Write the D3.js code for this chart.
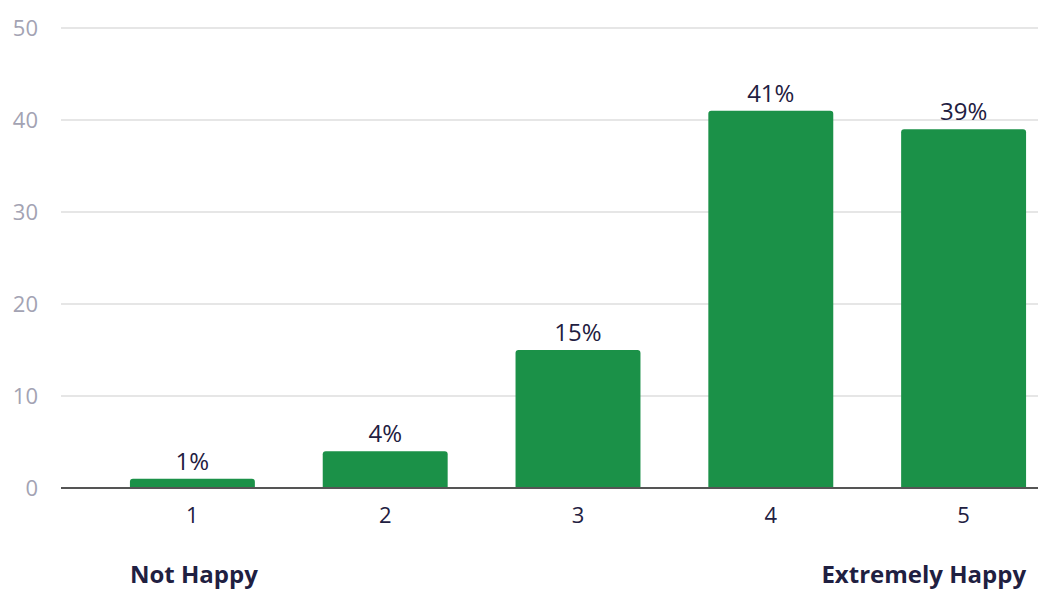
<!DOCTYPE html>
<html>
<head>
<meta charset="utf-8">
<script src="https://cdn.jsdelivr.net/npm/d3@7"></script>
<style>
  html, body { margin: 0; padding: 0; background: #ffffff; }
  svg { display: block; }
</style>
</head>
<body>
<div id="chart"></div>
<script>
// Happiness rating survey: share of respondents per score
const categories = ["1", "2", "3", "4", "5"];
const percentValues = [1, 4, 15, 41, 39];
const yTicks = [0, 10, 20, 30, 40, 50];
const scaleEndLabels = ["Not Happy", "Extremely Happy"];

const width = 1038, height = 590;
const gridLeft = 61, gridRight = 1038;
const yTop = 28, yBottom = 488;
const font = "'Open Sans', sans-serif";

const svg = d3.select("#chart").append("svg")
  .attr("width", width)
  .attr("height", height);

const x = d3.scaleBand()
  .domain(categories)
  .range([96, 1060])
  .paddingInner(0.352)
  .paddingOuter(0.176);

const y = d3.scaleLinear()
  .domain([0, 50])
  .range([yBottom, yTop]);

// horizontal gridlines
svg.append("g")
  .selectAll("line")
  .data(yTicks.filter(t => t !== 0))
  .join("line")
  .attr("x1", gridLeft)
  .attr("x2", gridRight)
  .attr("y1", d => y(d))
  .attr("y2", d => y(d))
  .attr("stroke", "#e6e6e6")
  .attr("stroke-width", 2);

// y axis labels
const yAxis = d3.axisLeft(y).tickValues(yTicks).tickSize(0).tickPadding(0);
const yG = svg.append("g")
  .attr("transform", `translate(38,0)`)
  .call(yAxis);
yG.select(".domain").remove();
yG.selectAll("text")
  .attr("font-family", font)
  .attr("font-size", 22)
  .attr("fill", "#a3a3b3")
  .attr("dy", "0.36em");

// bars with rounded top corners
const r = 3;
function barPath(d, i) {
  const x0 = x(categories[i]);
  const w = x.bandwidth();
  const yT = y(d);
  const yB = y(0);
  return `M${x0},${yB} L${x0},${yT + r} Q${x0},${yT} ${x0 + r},${yT} ` +
         `L${x0 + w - r},${yT} Q${x0 + w},${yT} ${x0 + w},${yT + r} L${x0 + w},${yB} Z`;
}

svg.append("g")
  .selectAll("path")
  .data(percentValues)
  .join("path")
  .attr("d", (d, i) => barPath(d, i))
  .attr("fill", "#1b9148");

// value labels
svg.append("g")
  .selectAll("text")
  .data(percentValues)
  .join("text")
  .attr("x", (d, i) => x(categories[i]) + x.bandwidth() / 2)
  .attr("y", d => y(d) - 9)
  .attr("text-anchor", "middle")
  .attr("font-family", font)
  .attr("font-size", 24)
  .attr("fill", "#1f2041")
  .text(d => d + "%");

// category ticks
const xAxis = d3.axisBottom(x).tickSize(0).tickPadding(0);
const xG = svg.append("g")
  .attr("transform", `translate(0,${yBottom})`)
  .call(xAxis);
xG.select(".domain").remove();
xG.selectAll("text")
  .attr("font-family", font)
  .attr("font-size", 22)
  .attr("fill", "#1f2041")
  .attr("dy", 0)
  .attr("y", 35);

// baseline
svg.append("line")
  .attr("x1", gridLeft)
  .attr("x2", gridRight)
  .attr("y1", yBottom)
  .attr("y2", yBottom)
  .attr("stroke", "#555555")
  .attr("stroke-width", 2);

// scale end captions
svg.append("text")
  .attr("x", x(categories[0]))
  .attr("y", 583)
  .attr("font-family", font)
  .attr("font-weight", 700)
  .attr("font-size", 24)
  .attr("fill", "#1f2041")
  .text(scaleEndLabels[0]);

svg.append("text")
  .attr("x", x(categories[categories.length - 1]) + x.bandwidth())
  .attr("y", 583)
  .attr("text-anchor", "end")
  .attr("font-family", font)
  .attr("font-weight", 700)
  .attr("font-size", 24)
  .attr("fill", "#1f2041")
  .text(scaleEndLabels[1]);
</script>
</body>
</html>
